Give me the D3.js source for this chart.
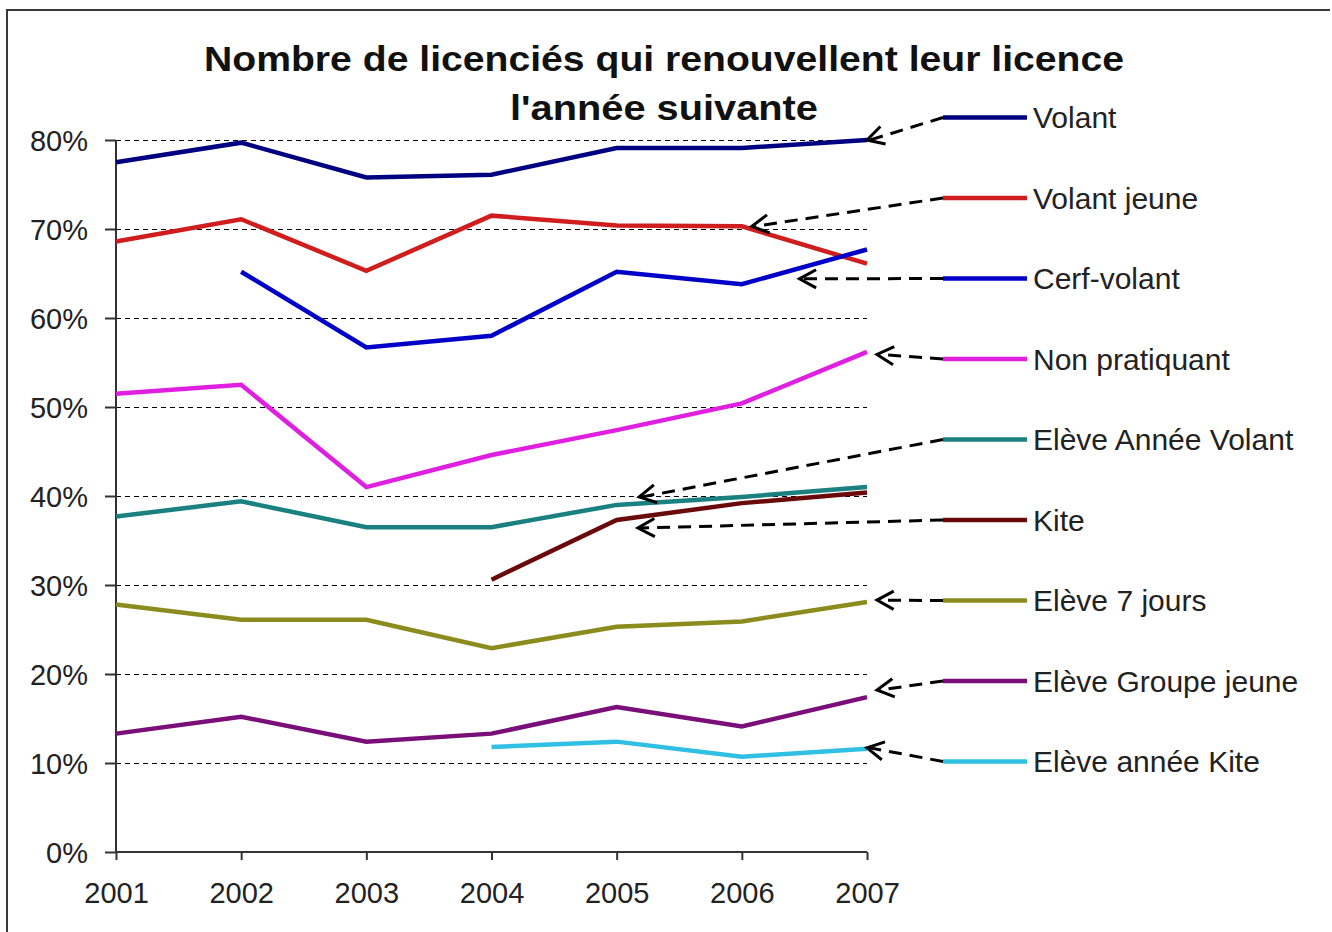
<!DOCTYPE html>
<html><head><meta charset="utf-8">
<script src="https://cdn.jsdelivr.net/npm/d3@7"></script>
<style>
html,body{margin:0;padding:0;background:#fff;}
svg{display:block;font-family:Arial,"Liberation Sans",sans-serif;}
</style></head>
<body>
<svg id="chart" width="1332" height="932"></svg>
<script>
const years = [2001, 2002, 2003, 2004, 2005, 2006, 2007];
const yTicks = [0, 10, 20, 30, 40, 50, 60, 70, 80];
const titleLines = ["Nombre de licenciés qui renouvellent leur licence", "l'année suivante"];

const seriesNames = ["Volant", "Volant jeune", "Cerf-volant", "Non pratiquant", "Elève Année Volant", "Kite", "Elève 7 jours", "Elève Groupe jeune", "Elève année Kite"];
const seriesColors = ["#000080", "#d01e1e", "#0000c8", "#e020e0", "#1a8080", "#6b0a0a", "#8c8c1e", "#7a0f7a", "#30c0e4"];

const volant          = [77.5, 79.7, 75.8, 76.1, 79.1, 79.1, 80.0];
const volantJeune     = [68.6, 71.1, 65.3, 71.5, 70.4, 70.3, 66.1];
const cerfVolant      = [null, 65.2, 56.7, 58.0, 65.2, 63.8, 67.7];
const nonPratiquant   = [51.5, 52.5, 41.0, 44.6, 47.4, 50.4, 56.2];
const eleveAnneeVolant= [37.7, 39.4, 36.5, 36.5, 39.0, 39.9, 41.0];
const kite            = [null, null, null, 30.6, 37.3, 39.2, 40.4];
const eleve7Jours     = [27.8, 26.1, 26.1, 22.9, 25.3, 25.9, 28.1];
const eleveGroupeJeune= [13.3, 15.2, 12.4, 13.3, 16.3, 14.1, 17.4];
const eleveAnneeKite  = [null, null, null, 11.8, 12.4, 10.7, 11.6];

const seriesValues = [volant, volantJeune, cerfVolant, nonPratiquant, eleveAnneeVolant, kite, eleve7Jours, eleveGroupeJeune, eleveAnneeKite];

// arrow targets (year, value) for the legend callouts
const arrowYears  = [2007.0, 2006.08, 2006.46, 2007.08, 2005.18, 2005.17, 2007.08, 2007.08, 2007.0];
const arrowValues = [80.0, 70.3, 64.4, 55.9, 39.9, 36.4, 28.3, 18.2, 11.7];

const svg = d3.select("#chart");

const x = d3.scaleLinear().domain([2001, 2007]).range([116, 867]);
const y = d3.scaleLinear().domain([0, 80]).range([852, 140]);

// frame (top and left edges)
svg.append("path").attr("d", "M7,940 L7,10 L1330,10").attr("fill", "none").attr("stroke", "#3a3a3a").attr("stroke-width", 2);

// gridlines
svg.append("g").selectAll("line").data(yTicks.filter(d => d > 0)).join("line")
  .attr("x1", x(2001)).attr("x2", x(2007))
  .attr("y1", d => Math.round(y(d)) + 0.5).attr("y2", d => Math.round(y(d)) + 0.5)
  .attr("stroke", "#000").attr("stroke-width", 1).attr("stroke-dasharray", "5,4");

// y axis
const yAxis = d3.axisLeft(y).tickValues(yTicks).tickFormat(d => d + "%").tickSize(11).tickPadding(17);
const gy = svg.append("g").attr("transform", `translate(${x(2001)},0)`).call(yAxis);
gy.select(".domain").attr("stroke", "#333").attr("stroke-width", 2).attr("d", `M0,${y(80)}V${y(0)}`);
gy.selectAll(".tick line").attr("stroke", "#333").attr("stroke-width", 2);
gy.selectAll(".tick text").attr("font-size", 29).attr("fill", "#222").attr("font-family", "Arial, 'Liberation Sans', sans-serif").attr("dy", "0.35em");

// x axis
const xAxis = d3.axisBottom(x).tickValues(years).tickFormat(d3.format("d")).tickSize(8).tickPadding(22);
const gx = svg.append("g").attr("transform", `translate(0,${y(0)})`).call(xAxis);
gx.select(".domain").attr("stroke", "#333").attr("stroke-width", 2).attr("d", `M${x(2001)},0H${x(2007)}`);
gx.selectAll(".tick line").attr("stroke", "#333").attr("stroke-width", 2);
gx.selectAll(".tick text").attr("font-size", 29).attr("fill", "#222").attr("font-family", "Arial, 'Liberation Sans', sans-serif");

// series lines
const line = d3.line().defined(d => d.v != null).x(d => x(d.year)).y(d => y(d.v));
seriesValues.forEach((vals, i) => {
  const pts = years.map((yr, j) => ({year: yr, v: vals[j]}));
  svg.append("path").datum(pts).attr("d", line)
    .attr("fill", "none").attr("stroke", seriesColors[i]).attr("stroke-width", 4.5)
    .attr("stroke-linejoin", "miter");
});

// legend
const legX0 = 943, legX1 = 1027, legY0 = 117.5, legStep = 80.5;
const leg = svg.append("g");
seriesNames.forEach((name, i) => {
  const ly = legY0 + i * legStep;
  // callout arrow
  const tx = x(arrowYears[i]), ty = y(arrowValues[i]);
  svg.append("line").attr("x1", legX0).attr("y1", ly).attr("x2", tx + 3).attr("y2", ty)
    .attr("stroke", "#000").attr("stroke-width", 3).attr("stroke-dasharray", "13,8");
  const ang = Math.atan2(ly - ty, legX0 - tx);
  const hl = 19, ha = 0.5;
  const p1 = [tx + hl * Math.cos(ang + ha), ty + hl * Math.sin(ang + ha)];
  const p2 = [tx + hl * Math.cos(ang - ha), ty + hl * Math.sin(ang - ha)];
  svg.append("path").attr("d", `M${p1[0]},${p1[1]}L${tx},${ty}L${p2[0]},${p2[1]}`)
    .attr("fill", "none").attr("stroke", "#000").attr("stroke-width", 3);
  leg.append("line").attr("x1", legX0).attr("x2", legX1).attr("y1", ly).attr("y2", ly)
    .attr("stroke", seriesColors[i]).attr("stroke-width", 4.5);
  leg.append("text").attr("x", legX1 + 6).attr("y", ly).attr("dy", "0.36em")
    .attr("font-size", 30).attr("fill", "#222").text(name);
});

// title
svg.append("text").attr("x", 664).attr("y", 71).attr("text-anchor", "middle")
  .attr("font-size", 35).attr("font-weight", "bold").attr("fill", "#111")
  .attr("textLength", 920).attr("lengthAdjust", "spacingAndGlyphs").text(titleLines[0]);
svg.append("text").attr("x", 664).attr("y", 120).attr("text-anchor", "middle")
  .attr("font-size", 35).attr("font-weight", "bold").attr("fill", "#111")
  .attr("textLength", 308).attr("lengthAdjust", "spacingAndGlyphs").text(titleLines[1]);
</script>
</body></html>
